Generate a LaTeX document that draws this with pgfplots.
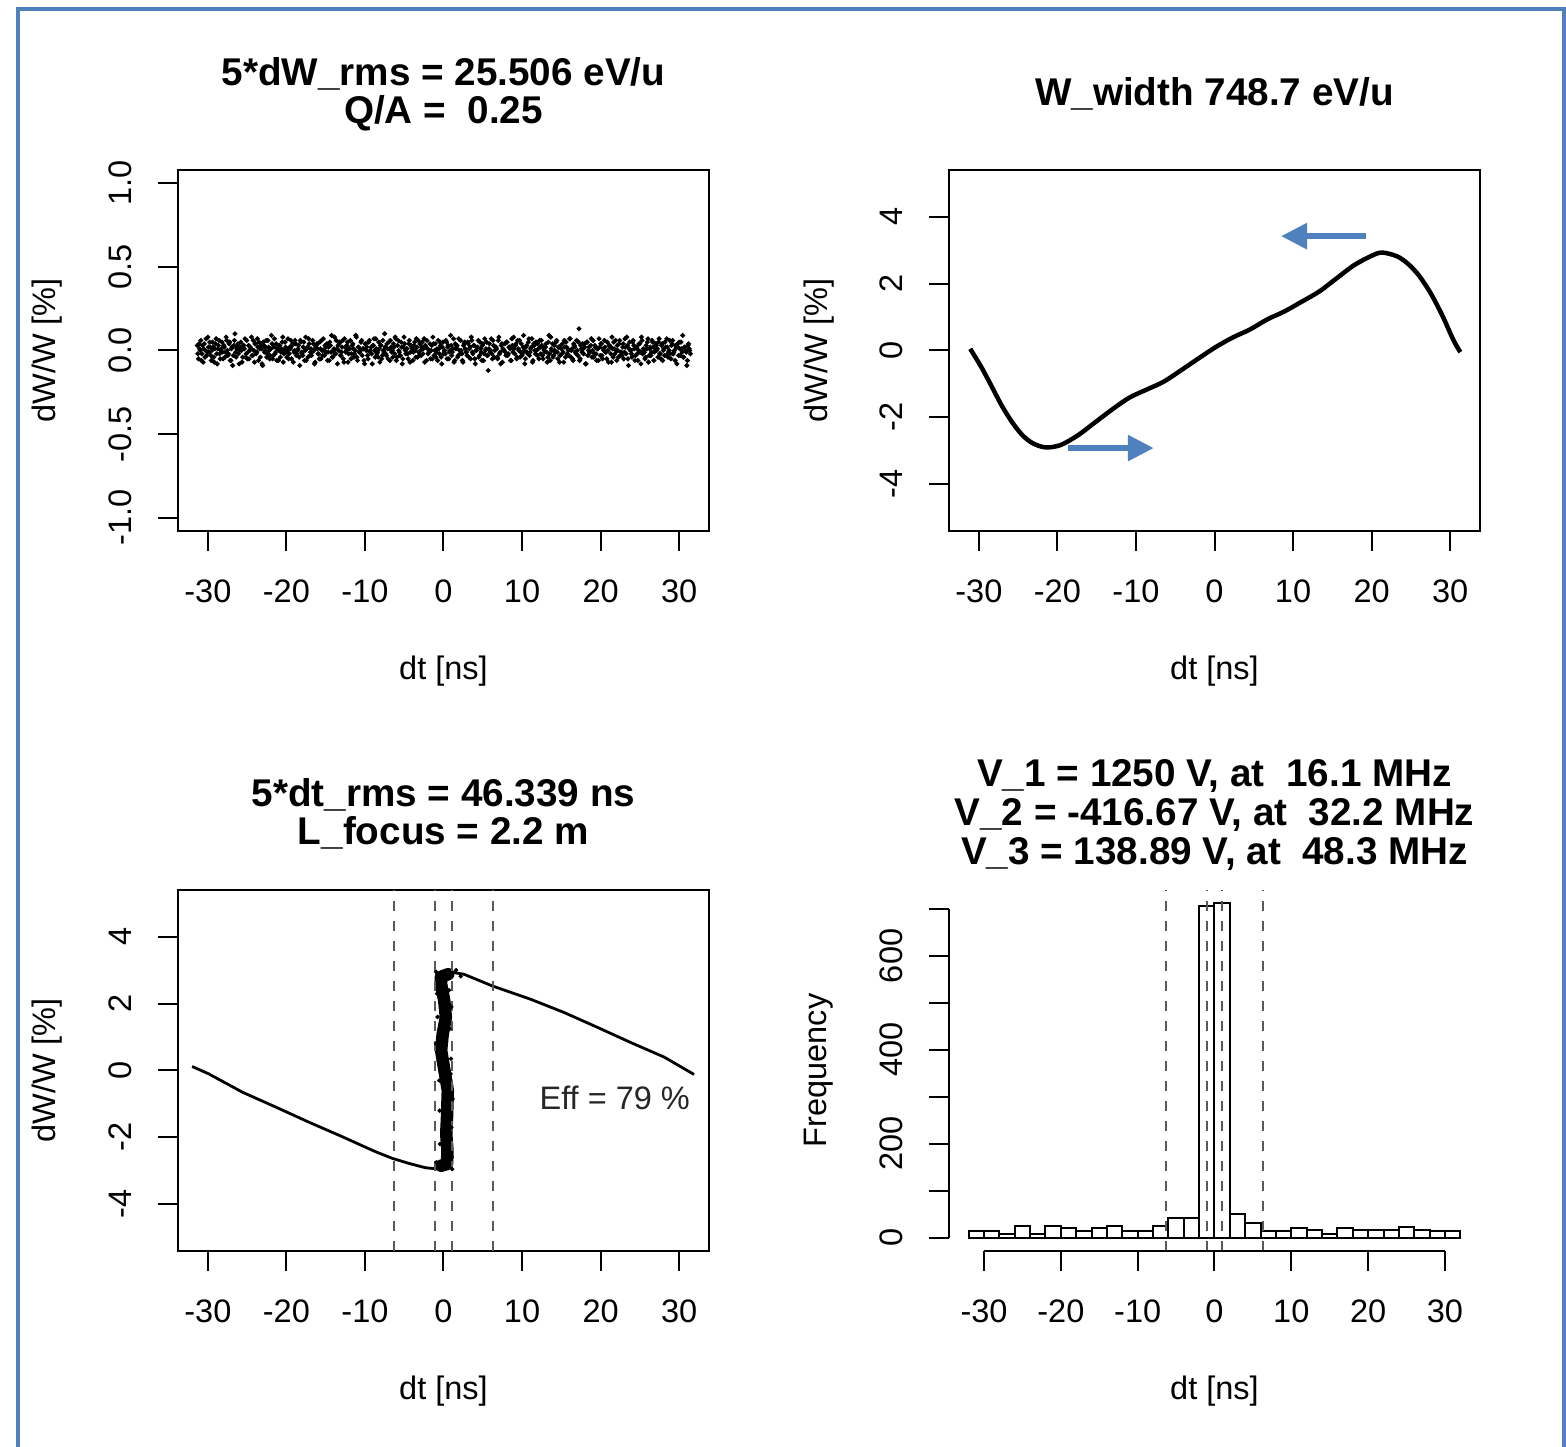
\documentclass[border=0pt]{standalone}
\usepackage{fontspec}
\setmainfont{Liberation Sans}
\usepackage{pgfplots}
\pgfplotsset{compat=1.18}
\usetikzlibrary{arrows.meta}
\definecolor{rblue}{RGB}{79,129,189}
\definecolor{dashgray}{gray}{0.35}
\newcommand{\tfont}{\bfseries\fontsize{11}{13}\selectfont}
\newcommand{\nfont}{\fontsize{9.25}{11}\selectfont}
\pgfplotsset{
  rstyle/.style={
    scale only axis, width=53.1mm, height=36.1mm, anchor=south west, clip=false,
    axis line style={line width=0.2mm, black},
    every tick/.style={black, line width=0.2mm},
    tick align=outside, major tick length=2mm, tick pos=left,
    xticklabel style={anchor=north, inner xsep=0pt, inner ysep=2.85mm, outer sep=0pt},
    yticklabel style={rotate=90, anchor=south, inner xsep=0pt, inner ysep=2.65mm, outer sep=0pt},
    tick label style={font=\nfont},
    label style={font=\nfont},
    xlabel style={at={([yshift=-14.9mm]axis description cs:0.5,0)}, anchor=base},
    ylabel style={at={([xshift=-12.2mm]axis description cs:0,0.5)}, anchor=base, rotate=0},
    xtick={-30,-20,...,30}, xticklabels={-30,-20,-10,0,10,20,30},
    xlabel={dt [ns]},
  },
  dline/.style={dashgray, line width=0.2mm, dash pattern=on 1mm off 1mm},
  dots/.style={only marks, mark=*, mark size=0.14mm, black},
  bdots/.style={only marks, mark=*, mark size=0.17mm, black},
}
\begin{document}
\begin{tikzpicture}
% frame
\draw[rblue, line width=0.4mm] (1.8mm,-2mm) -- (1.8mm,143.8mm) -- (156.4mm,143.8mm) -- (156.4mm,-2mm);

% ---------- panel 1 ----------
\begin{axis}[rstyle, at={(17.8mm,91.6mm)},
  xmin=-33.8, xmax=33.8, ymin=-1.08, ymax=1.08,
  ytick={-1,-0.5,0,0.5,1}, yticklabels={-1.0,-0.5,0.0,0.5,1.0},
  ylabel={dW/W [\%]}]
\addplot[bdots] coordinates {
(-31.35,.03)(-31.20,-.05)(-31.05,.01)(-30.90,.06)(-30.75,-.02)(-30.60,-.07)(-30.45,.04)(-30.30,0)(-30.15,-.03)(-30.00,.08)
(-29.85,-.01)(-29.70,.02)(-29.55,-.06)(-29.40,.05)(-29.25,-.04)(-29.10,.01)(-28.95,.07)(-28.80,-.08)(-28.65,.03)(-28.50,-.02)
(-28.35,0)(-28.20,.05)(-28.05,-.05)(-27.90,.02)(-27.75,-.01)(-27.60,.06)(-27.45,-.03)(-27.30,.04)(-27.15,-.06)(-27.00,.01)
(-26.85,-.09)(-26.70,.03)(-26.55,.10)(-26.40,-.04)(-26.25,.02)(-26.10,-.02)(-25.95,0)(-25.80,.05)(-25.65,-.07)(-25.50,.03)
(-25.35,.01)(-25.20,-.04)(-25.05,.06)(-24.90,-.01)(-24.75,-.05)(-24.60,.02)(-24.45,.08)(-24.30,-.03)(-24.15,0)(-24.00,.04)
(-23.85,-.02)(-23.70,.07)(-23.55,-.06)(-23.40,.01)(-23.25,.03)(-23.10,-.08)(-22.95,.05)(-22.80,-.01)(-22.65,.02)(-22.50,-.04)
(-22.35,.06)(-22.20,0)(-22.05,-.03)(-21.90,.09)(-21.75,-.05)(-21.60,.02)(-21.45,-.02)(-21.30,.04)(-21.15,.01)(-21.00,-.06)
(-20.85,.03)(-20.70,-.01)(-20.55,.05)(-20.40,-.07)(-20.25,0)(-20.10,.02)(-19.95,-.04)(-19.80,.07)(-19.65,-.02)(-19.50,.01)
(-19.35,-.05)(-19.20,.04)(-19.05,-.01)(-18.90,.06)(-18.75,-.03)(-18.60,0)(-18.45,.03)(-18.30,-.09)(-18.15,.05)(-18.00,-.02)
(-17.85,.02)(-17.70,-.06)(-17.55,.08)(-17.40,.01)(-17.25,-.04)(-17.10,.04)(-16.95,-.01)(-16.80,-.03)(-16.65,.06)(-16.50,0)
(-16.35,-.07)(-16.20,.03)(-16.05,.01)(-15.90,-.02)(-15.75,.05)(-15.60,-.05)(-15.45,0)(-15.30,.07)(-15.15,-.03)(-15.00,.02)
(-14.85,.04)(-14.70,-.01)(-14.55,-.06)(-14.40,.03)(-14.25,.09)(-14.10,-.04)(-13.95,.01)(-13.80,-.02)(-13.65,.06)(-13.50,-.08)
(-13.35,0)(-13.20,.05)(-13.05,-.03)(-12.90,.02)(-12.75,-.05)(-12.60,.07)(-12.45,-.01)(-12.30,.03)(-12.15,-.07)(-12.00,.01)
(-11.85,.06)(-11.70,-.02)(-11.55,.04)(-11.40,-.04)(-11.25,0)(-11.10,.08)(-10.95,-.06)(-10.80,.02)(-10.65,-.01)(-10.50,.05)
(-10.35,-.03)(-10.20,.01)(-10.05,-.08)(-9.90,.04)(-9.75,.02)(-9.60,-.05)(-9.45,.06)(-9.30,0)(-9.15,-.02)(-9.00,.03)
(-8.85,.07)(-8.70,-.04)(-8.55,.01)(-8.40,-.01)(-8.25,.05)(-8.10,-.07)(-7.95,.03)(-7.80,-.03)(-7.65,0)(-7.50,.10)
(-7.35,-.02)(-7.20,.04)(-7.05,-.05)(-6.90,.01)(-6.75,.06)(-6.60,-.01)(-6.45,-.04)(-6.30,.02)(-6.15,.08)(-6.00,-.06)
(-5.85,.03)(-5.70,0)(-5.55,-.03)(-5.40,.05)(-5.25,-.08)(-5.10,.02)(-4.95,.04)(-4.80,-.02)(-4.65,.01)(-4.50,-.05)
(-4.35,.06)(-4.20,-.01)(-4.05,.02)(-3.90,-.06)(-3.75,.03)(-3.60,0)(-3.45,.07)(-3.30,-.04)(-3.15,-.01)(-3.00,.04)
(-2.85,-.03)(-2.70,.05)(-2.55,.01)(-2.40,-.07)(-2.25,.02)(-2.10,.06)(-1.95,-.02)(-1.80,0)(-1.65,-.05)(-1.50,.03)
(-1.35,.08)(-1.20,-.03)(-1.05,.04)(-0.90,-.01)(-0.75,-.06)(-0.60,.01)(-0.45,.05)(-0.30,-.04)(-0.15,.02)(0.00,-.02)
(0.15,0)(0.30,.06)(0.45,-.05)(0.60,.03)(0.75,-.01)(0.90,.09)(1.05,-.03)(1.20,.01)(1.35,-.07)(1.50,.04)
(1.65,.02)(1.80,-.04)(1.95,.07)(2.10,-.02)(2.25,0)(2.40,-.06)(2.55,.03)(2.70,.05)(2.85,-.01)(3.00,-.03)
(3.15,.04)(3.30,.01)(3.45,-.05)(3.60,.06)(3.75,-.02)(3.90,.03)(4.05,-.08)(4.20,0)(4.35,.02)(4.50,-.04)
(4.65,.05)(4.80,-.01)(4.95,.03)(5.10,-.06)(5.25,.07)(5.40,.01)(5.55,-.03)(5.70,-.12)(5.85,.04)(6.00,0)
(6.15,-.02)(6.30,.06)(6.45,-.04)(6.60,.02)(6.75,.01)(6.90,-.05)(7.05,.08)(7.20,-.01)(7.35,.03)(7.50,-.07)
(7.65,0)(7.80,.04)(7.95,-.03)(8.10,.05)(8.25,-.02)(8.40,.02)(8.55,-.06)(8.70,.07)(8.85,-.01)(9.00,.01)
(9.15,.03)(9.30,-.05)(9.45,.06)(9.60,0)(9.75,-.04)(9.90,.04)(10.05,-.02)(10.20,.09)(10.35,-.08)(10.50,.02)
(10.65,-.01)(10.80,.05)(10.95,-.03)(11.10,.01)(11.25,.07)(11.40,-.06)(11.55,.03)(11.70,-.02)(11.85,0)(12.00,.04)
(12.15,-.05)(12.30,.02)(12.45,.06)(12.60,-.03)(12.75,.01)(12.90,-.01)(13.05,.04)(13.20,-.07)(13.35,.05)(13.50,-.02)
(13.65,.08)(13.80,0)(13.95,-.04)(14.10,.03)(14.25,-.01)(14.40,.06)(14.55,-.05)(14.70,.02)(14.85,-.03)(15.00,.01)
(15.15,.04)(15.30,-.07)(15.45,.02)(15.60,.05)(15.75,-.02)(15.90,0)(16.05,.07)(16.20,-.04)(16.35,.01)(16.50,-.06)
(16.65,.03)(16.80,-.01)(16.95,.06)(17.10,-.03)(17.25,.13)(17.40,-.05)(17.55,.01)(17.70,.04)(17.85,-.02)(18.00,.02)
(18.15,-.08)(18.30,.05)(18.45,0)(18.60,-.01)(18.75,.03)(18.90,-.04)(19.05,.06)(19.20,-.02)(19.35,.02)(19.50,-.06)
(19.65,.01)(19.80,.07)(19.95,-.03)(20.10,.04)(20.25,-.05)(20.40,0)(20.55,.02)(20.70,-.01)(20.85,.05)(21.00,-.07)
(21.15,.03)(21.30,-.02)(21.45,.08)(21.60,-.04)(21.75,.01)(21.90,.06)(22.05,-.06)(22.20,0)(22.35,.04)(22.50,-.03)
(22.65,-.01)(22.80,.02)(22.95,-.05)(23.10,.07)(23.25,-.02)(23.40,.03)(23.55,-.09)(23.70,.05)(23.85,0)(24.00,-.04)
(24.15,.06)(24.30,.01)(24.45,-.03)(24.60,.02)(24.75,-.06)(24.90,.04)(25.05,-.01)(25.20,.08)(25.35,-.02)(25.50,0)
(25.65,-.05)(25.80,.03)(25.95,.05)(26.10,-.07)(26.25,.01)(26.40,-.03)(26.55,.06)(26.70,.02)(26.85,-.01)(27.00,.04)
(27.15,0)(27.30,-.04)(27.45,.07)(27.60,-.02)(27.75,.03)(27.90,-.06)(28.05,.01)(28.20,.05)(28.35,-.03)(28.50,.02)
(28.65,-.01)(28.80,.06)(28.95,-.05)(29.10,.04)(29.25,-.02)(29.40,0)(29.55,.03)(29.70,-.08)(29.85,.02)(30.00,.05)
(30.15,-.03)(30.30,.01)(30.45,.09)(30.60,-.04)(30.75,.02)(30.90,-.01)(31.05,-.06)(31.20,.04)(31.35,0)
};
\addplot[bdots] coordinates {
(-31.27,-.02)(-31.12,.04)(-30.97,0)(-30.82,-.06)(-30.67,.03)(-30.52,.01)(-30.37,-.04)(-30.22,.07)(-30.07,-.01)(-29.92,.02)
(-29.77,.05)(-29.62,-.03)(-29.47,0)(-29.32,.02)(-29.17,-.07)(-29.02,.04)(-28.87,-.02)(-28.72,.01)(-28.57,.06)(-28.42,-.05)
(-28.27,.01)(-28.12,-.01)(-27.97,.03)(-27.82,-.04)(-27.67,.08)(-27.52,0)(-27.37,-.02)(-27.22,.05)(-27.07,-.06)(-26.92,.02)
(-26.77,-.03)(-26.62,.06)(-26.47,-.01)(-26.32,.01)(-26.17,.04)(-26.02,-.08)(-25.87,.02)(-25.72,0)(-25.57,-.04)(-25.42,.03)
(-25.27,.07)(-25.12,-.02)(-24.97,-.05)(-24.82,.03)(-24.67,0)(-24.52,.01)(-24.37,-.03)(-24.22,.06)(-24.07,-.07)(-23.92,.04)
(-23.77,-.01)(-23.62,.02)(-23.47,.05)(-23.32,-.04)(-23.17,.01)(-23.02,-.09)(-22.87,.03)(-22.72,0)(-22.57,.06)(-22.42,-.02)
(-22.27,.02)(-22.12,-.05)(-21.97,.01)(-21.82,.04)(-21.67,-.03)(-21.52,.07)(-21.37,-.01)(-21.22,-.06)(-21.07,.03)(-20.92,0)
(-20.77,-.04)(-20.62,.01)(-20.47,.08)(-20.32,-.02)(-20.17,.05)(-20.02,-.01)(-19.87,0)(-19.72,-.05)(-19.57,.02)(-19.42,.06)
(-19.27,.03)(-19.12,-.07)(-18.97,0)(-18.82,.04)(-18.67,-.02)(-18.52,.01)(-18.37,-.04)(-18.22,.06)(-18.07,-.01)(-17.92,-.03)
(-17.77,.05)(-17.62,0)(-17.47,-.06)(-17.32,.02)(-17.17,.07)(-17.02,-.03)(-16.87,.01)(-16.72,-.01)(-16.57,.04)(-16.42,-.08)
(-16.27,.02)(-16.12,.04)(-15.97,-.02)(-15.82,-.05)(-15.67,.01)(-15.52,.06)(-15.37,-.03)(-15.22,0)(-15.07,.03)(-14.92,-.01)
(-14.77,-.06)(-14.62,.02)(-14.47,.05)(-14.32,-.01)(-14.17,-.04)(-14.02,0)(-13.87,.08)(-13.72,-.02)(-13.57,.01)(-13.42,.03)
(-13.27,.04)(-13.12,-.03)(-12.97,-.01)(-12.82,.06)(-12.67,-.07)(-12.52,.02)(-12.37,0)(-12.22,.05)(-12.07,-.02)(-11.92,.01)
(-11.77,-.05)(-11.62,.03)(-11.47,.01)(-11.32,-.02)(-11.17,.09)(-11.02,-.04)(-10.87,.02)(-10.72,-.01)(-10.57,0)(-10.42,.06)
(-10.27,.01)(-10.12,-.06)(-9.97,.04)(-9.82,0)(-9.67,-.03)(-9.52,.05)(-9.37,-.01)(-9.22,.02)(-9.07,-.08)(-8.92,.03)
(-8.77,0)(-8.62,.07)(-8.47,-.02)(-8.32,-.04)(-8.17,.01)(-8.02,.03)(-7.87,-.05)(-7.72,.06)(-7.57,-.01)(-7.42,.02)
(-7.27,-.03)(-7.12,.01)(-6.97,.05)(-6.82,-.06)(-6.67,.02)(-6.52,0)(-6.37,.04)(-6.22,-.02)(-6.07,.07)(-5.92,-.04)
(-5.77,.06)(-5.62,-.01)(-5.47,-.03)(-5.32,.02)(-5.17,-.05)(-5.02,.08)(-4.87,0)(-4.72,.01)(-4.57,-.02)(-4.42,.04)
(-4.27,-.07)(-4.12,.03)(-3.97,.01)(-3.82,-.01)(-3.67,.05)(-3.52,-.04)(-3.37,.02)(-3.22,.06)(-3.07,-.03)(-2.92,0)
(-2.77,.02)(-2.62,-.02)(-2.47,.07)(-2.32,.03)(-2.17,-.06)(-2.02,.01)(-1.87,-.01)(-1.72,.04)(-1.57,0)(-1.42,-.05)
(-1.27,.04)(-1.12,0)(-0.97,-.04)(-0.82,.01)(-0.67,.06)(-0.52,-.02)(-0.37,.03)(-0.22,-.08)(-0.07,.05)(0.08,-.01)
(0.23,-.02)(0.38,.05)(0.53,.02)(0.68,-.05)(0.83,0)(0.98,.03)(1.13,-.01)(1.28,.07)(1.43,-.06)(1.58,.01)
(1.73,.03)(1.88,-.03)(2.03,0)(2.18,.06)(2.33,-.02)(2.48,-.07)(2.63,.04)(2.78,.01)(2.93,-.01)(3.08,.05)
(3.23,-.04)(3.38,.02)(3.53,.08)(3.68,-.01)(3.83,.03)(3.98,-.05)(4.13,0)(4.28,.02)(4.43,.06)(4.58,-.03)
(4.73,.01)(4.88,-.06)(5.03,.04)(5.18,-.02)(5.33,0)(5.48,.05)(5.63,-.03)(5.78,.01)(5.93,-.01)(6.08,.07)
(6.23,-.05)(6.38,.03)(6.53,0)(6.68,.02)(6.83,-.04)(6.98,.06)(7.13,-.02)(7.28,-.08)(7.43,.04)(7.58,.01)
(7.73,0)(7.88,-.01)(8.03,.05)(8.18,-.03)(8.33,.02)(8.48,.01)(8.63,-.06)(8.78,.03)(8.93,.08)(9.08,-.02)
(9.23,.04)(9.38,-.04)(9.53,.01)(9.68,.06)(9.83,-.01)(9.98,-.03)(10.13,.02)(10.28,0)(10.43,-.05)(10.58,.03)
(10.73,-.02)(10.88,.07)(11.03,-.01)(11.18,.02)(11.33,-.07)(11.48,.04)(11.63,0)(11.78,.05)(11.93,-.03)(12.08,.01)
(12.23,.06)(12.38,-.02)(12.53,.03)(12.68,-.05)(12.83,0)(12.98,.02)(13.13,-.01)(13.28,-.04)(13.43,.09)(13.58,-.06)
(13.73,.01)(13.88,.04)(14.03,-.03)(14.18,0)(14.33,.05)(14.48,-.01)(14.63,.02)(14.78,-.07)(14.93,.03)(15.08,-.02)
(15.23,-.01)(15.38,.06)(15.53,-.04)(15.68,.02)(15.83,.01)(15.98,-.03)(16.13,.07)(16.28,0)(16.43,-.05)(16.58,.04)
(16.73,.02)(16.88,-.02)(17.03,0)(17.18,.05)(17.33,-.06)(17.48,.03)(17.63,-.01)(17.78,.01)(17.93,.04)(18.08,-.08)
(18.23,.05)(18.38,-.03)(18.53,.02)(18.68,-.01)(18.83,.07)(18.98,0)(19.13,-.04)(19.28,.03)(19.43,-.02)(19.58,.01)
(19.73,-.06)(19.88,.02)(20.03,.04)(20.18,-.03)(20.33,.01)(20.48,.06)(20.63,-.01)(20.78,-.05)(20.93,0)(21.08,.03)
(21.23,.02)(21.38,-.07)(21.53,.01)(21.68,.05)(21.83,-.02)(21.98,0)(22.13,.03)(22.28,-.04)(22.43,.06)(22.58,-.01)
(22.73,-.03)(22.88,.04)(23.03,-.01)(23.18,.02)(23.33,.08)(23.48,-.05)(23.63,.01)(23.78,0)(23.93,-.02)(24.08,.05)
(24.23,.03)(24.38,-.06)(24.53,.02)(24.68,-.02)(24.83,0)(24.98,.04)(25.13,-.08)(25.28,.06)(25.43,.01)(25.58,-.01)
(25.73,-.04)(25.88,.01)(26.03,.07)(26.18,-.03)(26.33,.02)(26.48,-.01)(26.63,.05)(26.78,-.06)(26.93,0)(27.08,.03)
(27.23,.01)(27.38,.05)(27.53,-.02)(27.68,-.05)(27.83,.04)(27.98,0)(28.13,-.03)(28.28,.02)(28.43,.07)(28.58,-.04)
(28.73,0)(28.88,-.02)(29.03,.03)(29.18,.06)(29.33,-.01)(29.48,-.06)(29.63,.02)(29.78,.04)(29.93,-.03)(30.08,.01)
(30.23,.05)(30.38,-.01)(30.53,-.04)(30.68,.02)(30.83,0)(30.98,-.09)(31.13,.03)(31.28,.01)(31.43,-.02)
};
\node[font=\tfont, anchor=base] at ([yshift=8.4mm]axis description cs:0.5,1) {5*dW\_rms = 25.506 eV/u};
\node[font=\tfont, anchor=base] at ([yshift=4.6mm]axis description cs:0.5,1) {Q/A =\ \ 0.25};
\end{axis}

% ---------- panel 2 ----------
\begin{axis}[rstyle, at={(94.9mm,91.6mm)},
  xmin=-33.8, xmax=33.8, ymin=-5.4, ymax=5.4,
  ytick={-4,-2,0,2,4}, yticklabels={-4,-2,0,2,4},
  ylabel={dW/W [\%]}]
\addplot[black, line width=0.45mm, smooth, line join=round] coordinates {
(-31.1,0.05) (-29.7,-0.49) (-28.38,-1.07) (-27.06,-1.66) (-25.75,-2.15) (-24.43,-2.54)
(-23.11,-2.78) (-21.5,-2.9) (-19.6,-2.83) (-17.4,-2.54) (-15.2,-2.15) (-13.0,-1.76)
(-10.83,-1.41) (-8.63,-1.17) (-6.44,-0.93) (-4.24,-0.59) (-2.05,-0.24) (0.14,0.10)
(2.34,0.39) (4.53,0.63) (6.72,0.93) (8.92,1.17) (11.11,1.46) (13.31,1.76) (15.5,2.15)
(17.7,2.54) (19.89,2.82) (21.3,2.93) (23.2,2.82) (24.6,2.6) (26.0,2.25) (27.5,1.72)
(29.0,1.05) (30.4,0.32) (31.3,-0.05)
};
\draw[rblue, line width=0.6mm, -{Triangle[length=2.6mm, width=2.5mm]}] (axis cs:19.3,3.42) -- (axis cs:8.47,3.42);
\draw[rblue, line width=0.6mm, -{Triangle[length=2.6mm, width=2.5mm]}] (axis cs:-18.65,-2.92) -- (axis cs:-7.73,-2.92);
\node[font=\tfont, anchor=base] at ([yshift=6.4mm]axis description cs:0.5,1) {W\_width 748.7 eV/u};
\end{axis}

% ---------- panel 3 ----------
\begin{axis}[rstyle, at={(17.8mm,19.6mm)},
  xmin=-33.8, xmax=33.8, ymin=-5.4, ymax=5.4,
  ytick={-4,-2,0,2,4}, yticklabels={-4,-2,0,2,4},
  ylabel={dW/W [\%]}]
\addplot[black, line width=0.28mm] coordinates {
(-32.0,0.12) (-29.9,-0.1) (-25.6,-0.65) (-21.4,-1.09) (-17.2,-1.54) (-12.9,-1.98)
(-8.66,-2.43) (-6.5,-2.63) (-4.4,-2.78) (-2.3,-2.91) (-0.6,-2.95) (0.6,-2.92)
};
\addplot[black, line width=0.28mm] coordinates {
(-0.6,2.9) (0.47,2.96) (2.6,2.88) (6.2,2.53) (11.1,2.13) (15.3,1.74) (19.6,1.29)
(23.8,0.84) (28.1,0.40) (31.9,-0.12)
};
\addplot[black, line width=1.25mm, line join=round, line cap=round] coordinates {
(-0.3,-2.85) (0.45,-2.8) (0.5,-2.38) (0.35,-1.9) (0.45,-1.39) (0.55,-0.6) (0.05,0.1)
(-0.3,0.6) (-0.1,1.09) (0.3,1.59) (0.1,2.08) (-0.3,2.58) (-0.35,2.8) (0.6,2.88)
};
\addplot[dots] coordinates {
(1.05,-2.6) (-0.45,-2.2) (1.0,-1.7) (-0.5,-1.2) (1.15,-0.85) (-0.55,-0.3) (0.95,0.35)
(-0.95,0.8) (0.8,1.25) (-0.75,1.6) (1.0,1.9) (-0.8,2.3) (0.7,2.4) (-0.95,2.95) (1.6,3.0)
(2.2,2.82) (-0.9,-2.75) (1.1,-2.95) (0.9,-0.1) (-0.6,0.3)
};
\addplot[dline] coordinates {(-6.25,-5.4) (-6.25,5.4)};
\addplot[dline] coordinates {(-1.02,-5.4) (-1.02,5.4)};
\addplot[dline] coordinates {(1.02,-5.4) (1.02,5.4)};
\addplot[dline] coordinates {(6.25,-5.4) (6.25,5.4)};
\node[font=\nfont, text=black!85] at (axis cs:21.8,-0.83) {Eff = 79 \%};
\node[font=\tfont, anchor=base] at ([yshift=8.3mm]axis description cs:0.5,1) {5*dt\_rms = 46.339 ns};
\node[font=\tfont, anchor=base] at ([yshift=4.5mm]axis description cs:0.5,1) {L\_focus = 2.2 m};
\end{axis}

% ---------- panel 4 ----------
\begin{axis}[rstyle, at={(94.9mm,19.6mm)},
  axis x line*=bottom, axis y line*=left, axis line style={draw=none},
  tick align=outside, major tick length=2mm,
  xmin=-34.56, xmax=34.56, ymin=-28.5, ymax=740.5,
  ytick={0,100,...,700}, yticklabels={0,,200,,400,,600,},
  ylabel={Frequency}]
\addplot[ybar, bar width=2, bar shift=0pt, fill=white, draw=black, line width=0.2mm] coordinates {
(-31,13) (-29,13) (-27,7) (-25,25) (-23,7) (-21,25) (-19,20) (-17,14) (-15,20) (-13,25)
(-11,14) (-9,14) (-7,25) (-5,41) (-3,41) (-1,706) (1,712) (3,51) (5,32) (7,15)
(9,14) (11,20) (13,16) (15,7) (17,20) (19,16) (21,16) (23,16) (25,22) (27,16) (29,14) (31,14)
};
\addplot[dline] coordinates {(-6.25,-28.5) (-6.25,740.5)};
\addplot[dline] coordinates {(-1.02,-28.5) (-1.02,740.5)};
\addplot[dline] coordinates {(1.02,-28.5) (1.02,740.5)};
\addplot[dline] coordinates {(6.25,-28.5) (6.25,740.5)};
\draw[line width=0.2mm] (axis cs:-30,-28.5) -- (axis cs:30,-28.5);
\draw[line width=0.2mm] (axis cs:-34.56,0) -- (axis cs:-34.56,700);
\node[font=\tfont, anchor=base] at ([yshift=10.3mm]axis description cs:0.5,1) {V\_1 = 1250 V, at\ \ 16.1 MHz};
\node[font=\tfont, anchor=base] at ([yshift=6.4mm]axis description cs:0.5,1) {V\_2 = -416.67 V, at\ \ 32.2 MHz};
\node[font=\tfont, anchor=base] at ([yshift=2.5mm]axis description cs:0.5,1) {V\_3 = 138.89 V, at\ \ 48.3 MHz};
\end{axis}

\pgfresetboundingbox
\useasboundingbox (0,0) rectangle (156.6mm,144.7mm);
\end{tikzpicture}
\end{document}
